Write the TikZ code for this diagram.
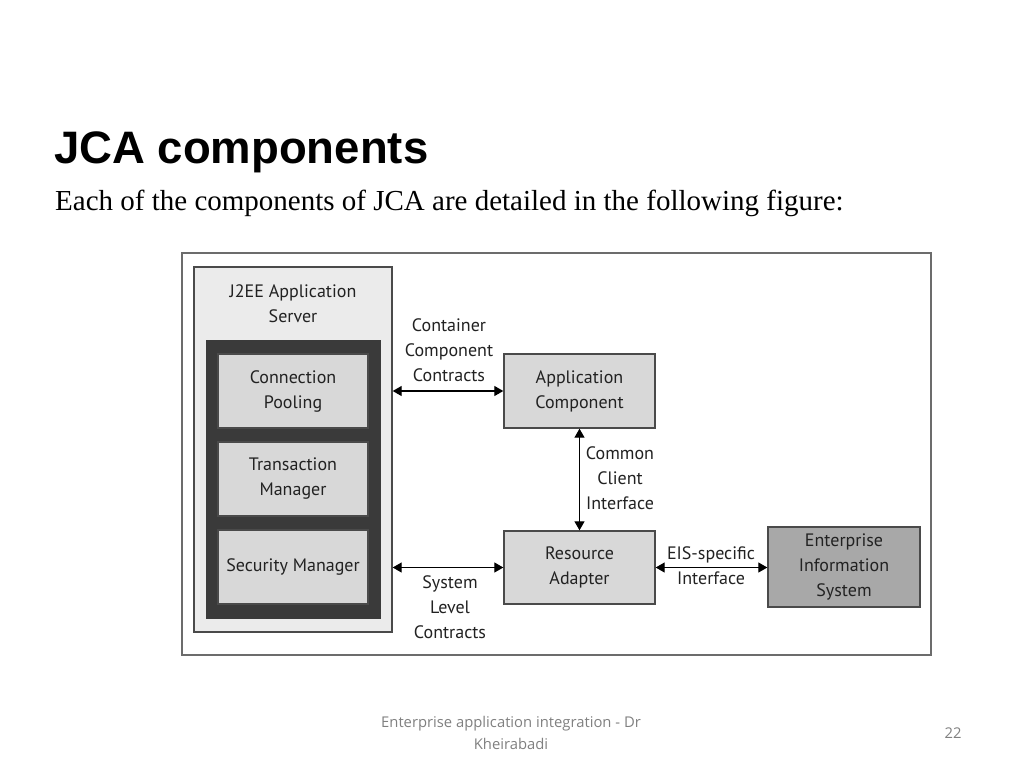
\documentclass[tikz,border=0pt]{standalone}
\usepackage{fontspec}
\usetikzlibrary{arrows.meta}
\setmainfont{Liberation Serif}
\newfontfamily\titlefont{Liberation Sans}
\newfontfamily\diafont{PT Sans}
\newfontfamily\footfont{Open Sans}
\definecolor{boxline}{HTML}{4A4A4A}
\definecolor{srvfill}{HTML}{EBEBEB}
\definecolor{corefill}{HTML}{3A3A3A}
\definecolor{partfill}{HTML}{D8D8D8}
\definecolor{eisfill}{HTML}{A8A8A8}
\definecolor{diatext}{HTML}{222222}
\definecolor{foottext}{HTML}{808080}
\tikzset{
  box/.style={draw=boxline, line width=1.4pt, inner sep=0pt, align=center,
    font=\diafont\fontsize{18}{25}\selectfont, text=diatext},
  part/.style={box, fill=partfill, minimum width=150pt, minimum height=74pt},
  lbl/.style={inner sep=0pt, align=center, font=\diafont\fontsize{18}{25}\selectfont, text=diatext},
  link/.style={line width=1.3pt, draw=black,
    {Triangle[length=9pt,width=10pt]}-{Triangle[length=9pt,width=10pt]}}
}
\begin{document}
\begin{tikzpicture}[x=1pt, y=-1pt]
    \useasboundingbox[fill=white] (0,0) rectangle (1024,768);
    % Titre
    \node[anchor=base west, inner sep=0pt, font=\titlefont\bfseries\fontsize{45.5}{50}\selectfont] (title) at (54,163) {JCA components};
    \node[anchor=base west, inner sep=0pt, font=\fontsize{29}{32}\selectfont] (subtitle) at (55,210) {Each of the components of JCA are detailed in the following figure:};
    % Cadre de la figure
    \draw[draw=gray!85!black, line width=1.3pt] (182,253) rectangle (931,655);
    % Serveur J2EE
    \node[box, fill=srvfill, minimum width=198pt, minimum height=365pt] (srv) at (293,449.5) {};
    \node[lbl] (srvlbl) at (293,304) {J2EE Application\\Server};
    \node[box, fill=corefill, draw=corefill, minimum width=173pt, minimum height=277pt] (core) at (293.5,479.5) {};
    \node[part] (pool) at (293,391) {Connection\\Pooling};
    \node[part] (txn) at (293,479) {Transaction\\Manager};
    \node[part] (sec) at (293,567) {Security Manager};
    % Composants
    \node[part, minimum width=151pt] (app) at (579.5,391) {Application\\Component};
    \node[part, minimum width=151pt, minimum height=73pt] (ra) at (579.5,567.5) {Resource\\Adapter};
    \node[box, fill=eisfill, minimum width=152pt, minimum height=80pt] (eis) at (844,567) {Enterprise\\Information\\System};
    % Contrats
    \draw[link] (srv.east |- app.west) -- (app.west);
    \draw[link] (srv.east |- ra.west) -- (ra.west);
    \draw[link] (app.south) -- (ra.north);
    \draw[link] (ra.east) -- (eis.west |- ra.east);
    % Labels
    \node[lbl] (cclbl) at (449,350) {Container\\Component\\Contracts};
    \node[lbl] (sllbl) at (450,607) {System\\Level\\Contracts};
    \node[lbl] (ccilbl) at (620,478) {Common\\Client\\Interface};
    \node[lbl] (eislbl) at (711,566) {EIS-specific\\Interface};
    % Pied de page
    \node[align=center, inner sep=0pt, text=foottext, font=\footfont\fontsize{14.8}{22}\selectfont] (foot) at (511,733) {Enterprise application integration - Dr\\Kheirabadi};
    \node[inner sep=0pt, text=foottext, font=\footfont\fontsize{14.8}{22}\selectfont] (page) at (953,733) {22};
\end{tikzpicture}
\end{document}
